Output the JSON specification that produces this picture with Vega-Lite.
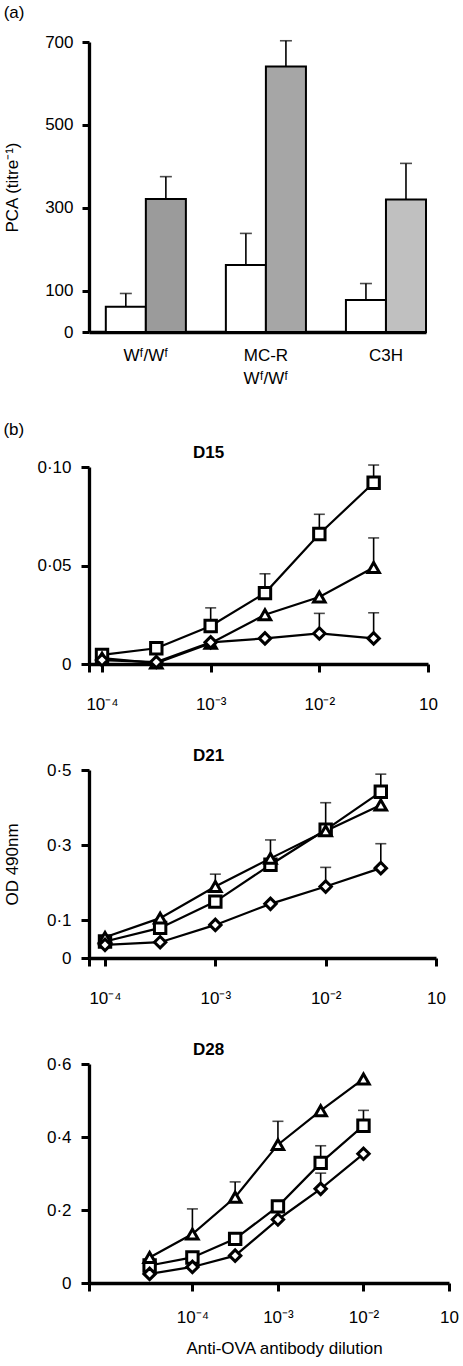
{
  "$schema": "https://vega.github.io/schema/vega-lite/v6.json",
  "background": "white",
  "padding": {"left": 3, "top": 4, "right": 0, "bottom": 5},
  "config": {
    "font": "Liberation Sans",
    "view": {"stroke": null}
  },
  "datasets": {
    "pca": [
      {"strain": "Wᶠ/Wᶠ", "treat": "control", "value": 61, "upper": 93},
      {"strain": "Wᶠ/Wᶠ", "treat": "sensitized", "value": 321, "upper": 375},
      {"strain": "MC-R Wᶠ/Wᶠ", "treat": "control", "value": 162, "upper": 238},
      {"strain": "MC-R Wᶠ/Wᶠ", "treat": "sensitized", "value": 641, "upper": 703},
      {"strain": "C3H", "treat": "control", "value": 77, "upper": 117},
      {"strain": "C3H", "treat": "sensitized", "value": 320, "upper": 407}
    ],
    "elisa": [
      {"day": "D15", "series": "grp1", "dilution": 0.0001, "od": 0.0046, "upper": null},
      {"day": "D15", "series": "grp1", "dilution": 0.000316, "od": 0.008, "upper": null},
      {"day": "D15", "series": "grp1", "dilution": 0.001, "od": 0.0193, "upper": 0.0285},
      {"day": "D15", "series": "grp1", "dilution": 0.00316, "od": 0.036, "upper": 0.0458},
      {"day": "D15", "series": "grp1", "dilution": 0.01, "od": 0.066, "upper": 0.076},
      {"day": "D15", "series": "grp1", "dilution": 0.0316, "od": 0.092, "upper": 0.101},
      {"day": "D15", "series": "grp2", "dilution": 0.0001, "od": 0.003, "upper": null},
      {"day": "D15", "series": "grp2", "dilution": 0.000316, "od": 0.0005, "upper": null},
      {"day": "D15", "series": "grp2", "dilution": 0.001, "od": 0.0105, "upper": null},
      {"day": "D15", "series": "grp2", "dilution": 0.00316, "od": 0.025, "upper": null},
      {"day": "D15", "series": "grp2", "dilution": 0.01, "od": 0.034, "upper": null},
      {"day": "D15", "series": "grp2", "dilution": 0.0316, "od": 0.049, "upper": 0.064},
      {"day": "D15", "series": "grp3", "dilution": 0.0001, "od": 0.002, "upper": null},
      {"day": "D15", "series": "grp3", "dilution": 0.000316, "od": 0.001, "upper": null},
      {"day": "D15", "series": "grp3", "dilution": 0.001, "od": 0.011, "upper": null},
      {"day": "D15", "series": "grp3", "dilution": 0.00316, "od": 0.013, "upper": null},
      {"day": "D15", "series": "grp3", "dilution": 0.01, "od": 0.0155, "upper": 0.0257},
      {"day": "D15", "series": "grp3", "dilution": 0.0316, "od": 0.013, "upper": 0.026},
      {"day": "D21", "series": "grp1", "dilution": 0.0001, "od": 0.044, "upper": null},
      {"day": "D21", "series": "grp1", "dilution": 0.000316, "od": 0.08, "upper": null},
      {"day": "D21", "series": "grp1", "dilution": 0.001, "od": 0.15, "upper": null},
      {"day": "D21", "series": "grp1", "dilution": 0.00316, "od": 0.248, "upper": null},
      {"day": "D21", "series": "grp1", "dilution": 0.01, "od": 0.341, "upper": 0.413},
      {"day": "D21", "series": "grp1", "dilution": 0.0316, "od": 0.442, "upper": 0.489},
      {"day": "D21", "series": "grp2", "dilution": 0.0001, "od": 0.055, "upper": null},
      {"day": "D21", "series": "grp2", "dilution": 0.000316, "od": 0.106, "upper": null},
      {"day": "D21", "series": "grp2", "dilution": 0.001, "od": 0.19, "upper": 0.223},
      {"day": "D21", "series": "grp2", "dilution": 0.00316, "od": 0.265, "upper": 0.314},
      {"day": "D21", "series": "grp2", "dilution": 0.01, "od": 0.338, "upper": null},
      {"day": "D21", "series": "grp2", "dilution": 0.0316, "od": 0.407, "upper": null},
      {"day": "D21", "series": "grp3", "dilution": 0.0001, "od": 0.035, "upper": null},
      {"day": "D21", "series": "grp3", "dilution": 0.000316, "od": 0.042, "upper": null},
      {"day": "D21", "series": "grp3", "dilution": 0.001, "od": 0.088, "upper": null},
      {"day": "D21", "series": "grp3", "dilution": 0.00316, "od": 0.144, "upper": null},
      {"day": "D21", "series": "grp3", "dilution": 0.01, "od": 0.19, "upper": 0.241},
      {"day": "D21", "series": "grp3", "dilution": 0.0316, "od": 0.239, "upper": 0.304},
      {"day": "D28", "series": "grp1", "dilution": 0.0000316, "od": 0.048, "upper": null},
      {"day": "D28", "series": "grp1", "dilution": 0.0001, "od": 0.07, "upper": null},
      {"day": "D28", "series": "grp1", "dilution": 0.000316, "od": 0.121, "upper": null},
      {"day": "D28", "series": "grp1", "dilution": 0.001, "od": 0.21, "upper": null},
      {"day": "D28", "series": "grp1", "dilution": 0.00316, "od": 0.329, "upper": 0.376},
      {"day": "D28", "series": "grp1", "dilution": 0.01, "od": 0.431, "upper": 0.473},
      {"day": "D28", "series": "grp2", "dilution": 0.0000316, "od": 0.07, "upper": null},
      {"day": "D28", "series": "grp2", "dilution": 0.0001, "od": 0.134, "upper": 0.203},
      {"day": "D28", "series": "grp2", "dilution": 0.000316, "od": 0.235, "upper": 0.277},
      {"day": "D28", "series": "grp2", "dilution": 0.001, "od": 0.379, "upper": 0.443},
      {"day": "D28", "series": "grp2", "dilution": 0.00316, "od": 0.472, "upper": null},
      {"day": "D28", "series": "grp2", "dilution": 0.01, "od": 0.559, "upper": null},
      {"day": "D28", "series": "grp3", "dilution": 0.0000316, "od": 0.025, "upper": null},
      {"day": "D28", "series": "grp3", "dilution": 0.0001, "od": 0.044, "upper": null},
      {"day": "D28", "series": "grp3", "dilution": 0.000316, "od": 0.075, "upper": null},
      {"day": "D28", "series": "grp3", "dilution": 0.001, "od": 0.174, "upper": null},
      {"day": "D28", "series": "grp3", "dilution": 0.00316, "od": 0.258, "upper": 0.301},
      {"day": "D28", "series": "grp3", "dilution": 0.01, "od": 0.354, "upper": null}
    ]
  },
  "spacing": 35,
  "vconcat": [
    {
      "vconcat": [
        {
          "width": 337, "height": 290,
          "title": {"text": "(a)", "anchor": "start", "frame": "bounds", "font": "Liberation Sans", "fontSize": 17, "fontWeight": "normal", "color": "black", "offset": 11},
          "data": {"name": "pca"},
          "encoding": {
            "x": {"field": "strain", "type": "nominal", "sort": ["Wᶠ/Wᶠ", "MC-R Wᶠ/Wᶠ", "C3H"],
              "scale": {"paddingInner": 0.333, "paddingOuter": 0.07, "align": 1},
              "axis": {"title": null, "labelAngle": 0, "ticks": false, "labelPadding": 15, "grid": false,
                "domainColor": "black", "domainWidth": 3.3, "labelColor": "black", "labelFont": "Liberation Sans", "labelFontSize": 17, "labelLineHeight": 23,
                "labelExpr": "datum.value == 'MC-R Wᶠ/Wᶠ' ? ['MC-R', 'Wᶠ/Wᶠ'] : datum.value"}},
            "xOffset": {"field": "treat", "type": "nominal", "sort": ["control", "sensitized"]}
          },
          "layer": [
            {"mark": {"type": "bar", "stroke": "black", "strokeWidth": 2},
              "encoding": {
                "y": {"field": "value", "type": "quantitative", "title": "PCA (titre⁻¹)", "scale": {"domain": [0, 700]},
                  "axis": {"values": [0, 100, 300, 500, 700], "grid": false, "domainColor": "black", "domainWidth": 3.3, "tickColor": "black", "tickWidth": 3, "tickSize": 7,
                    "labelColor": "black", "labelFont": "Liberation Sans", "labelFontSize": 17, "labelPadding": 9,
                    "titleColor": "black", "titleFont": "Liberation Sans", "titleFontSize": 17, "titleFontWeight": "normal", "titlePadding": 23}},
                "fill": {"condition": {"test": "datum.treat == 'control'", "value": "white"}, "field": "strain", "type": "nominal",
                  "scale": {"domain": ["Wᶠ/Wᶠ", "MC-R Wᶠ/Wᶠ", "C3H"], "range": ["#9b9b9b", "#a6a6a6", "#c0c0c0"]}, "legend": null}
              }},
            {"mark": {"type": "rule", "strokeWidth": 1.6, "color": "black"},
              "encoding": {"y": {"field": "value", "type": "quantitative", "title": "PCA (titre⁻¹)"}, "y2": {"field": "upper"}}},
            {"mark": {"type": "tick", "orient": "horizontal", "thickness": 1.6, "size": 12, "color": "black"},
              "encoding": {"y": {"field": "upper", "type": "quantitative", "title": "PCA (titre⁻¹)"}}}
          ]
        }
      ]
    },
    {
      "title": {"text": "(b)", "anchor": "start", "frame": "bounds", "font": "Liberation Sans", "fontSize": 17, "fontWeight": "normal", "color": "black", "offset": 5},
      "spacing": 35,
      "vconcat": [
        {
          "width": 339, "height": 197,
          "title": {"text": "D15", "anchor": "start", "frame": "group", "dx": 104, "dy": 4, "font": "Liberation Sans", "fontSize": 17, "fontWeight": "bold", "color": "black", "offset": 0},
          "data": {"name": "elisa"},
          "transform": [{"filter": "datum.day == 'D15'"}],
          "encoding": {
            "x": {"field": "dilution", "type": "quantitative", "title": null,
              "scale": {"type": "log", "domain": [0.0000759, 0.1]},
              "axis": {"values": [0.0000759, 0.0001, 0.001, 0.01, 0.1], "grid": false, "domainColor": "black", "domainWidth": 3.3, "tickColor": "black", "tickWidth": 3, "tickSize": 8,
                "labelColor": "black", "labelFont": "Liberation Sans", "labelFontSize": 17, "labelPadding": 24, "labelFlush": false,
                "labelExpr": "datum.value > 0.05 ? '10' : datum.value > 0.005 ? '10⁻²' : datum.value > 0.0005 ? '10⁻³' : datum.value > 0.00009 ? '10⁻⁴' : ''"}}
          },
          "layer": [
            {"transform": [{"filter": "datum.upper != null"}],
              "mark": {"type": "rule", "strokeWidth": 1.6, "color": "black"},
              "encoding": {"y": {"field": "od", "type": "quantitative", "title": null}, "y2": {"field": "upper"}}},
            {"transform": [{"filter": "datum.upper != null"}],
              "mark": {"type": "tick", "orient": "horizontal", "thickness": 1.6, "size": 11, "color": "black"},
              "encoding": {"y": {"field": "upper", "type": "quantitative", "title": null}}},
            {"mark": {"type": "line", "color": "black", "strokeWidth": 2.2},
              "encoding": {"y": {"field": "od", "type": "quantitative", "title": null, "scale": {"domain": [0, 0.1]},
                "axis": {"values": [0, 0.05, 0.1], "grid": false, "domainColor": "black", "domainWidth": 3.3, "tickColor": "black", "tickWidth": 3, "tickSize": 8,
                  "labelColor": "black", "labelFont": "Liberation Sans", "labelFontSize": 17, "labelPadding": 10,
                  "labelExpr": "datum.value == 0 ? '0' : replace(format(datum.value, '.2f'), '.', '·')"}},
                "detail": {"field": "series"}}},
            {"mark": {"type": "point", "filled": true, "fill": "white", "stroke": "black", "strokeWidth": 3, "size": 130, "opacity": 1},
              "encoding": {"y": {"field": "od", "type": "quantitative", "title": null},
                "shape": {"field": "series", "type": "nominal", "scale": {"domain": ["grp1", "grp2", "grp3"], "range": ["square", "triangle-up", "diamond"]}, "legend": null}}}
          ]
        },
        {
          "width": 347, "height": 188,
          "title": {"text": "D21", "anchor": "start", "frame": "group", "dx": 104, "dy": 4, "font": "Liberation Sans", "fontSize": 17, "fontWeight": "bold", "color": "black", "offset": 0},
          "data": {"name": "elisa"},
          "transform": [{"filter": "datum.day == 'D21'"}],
          "encoding": {
            "x": {"field": "dilution", "type": "quantitative", "title": null,
              "scale": {"type": "log", "domain": [0.0000716, 0.1]},
              "axis": {"values": [0.0000716, 0.0001, 0.001, 0.01, 0.1], "grid": false, "domainColor": "black", "domainWidth": 3.3, "tickColor": "black", "tickWidth": 3, "tickSize": 8,
                "labelColor": "black", "labelFont": "Liberation Sans", "labelFontSize": 17, "labelPadding": 24, "labelFlush": false,
                "labelExpr": "datum.value > 0.05 ? '10' : datum.value > 0.005 ? '10⁻²' : datum.value > 0.0005 ? '10⁻³' : datum.value > 0.00009 ? '10⁻⁴' : ''"}}
          },
          "layer": [
            {"transform": [{"filter": "datum.upper != null"}],
              "mark": {"type": "rule", "strokeWidth": 1.6, "color": "black"},
              "encoding": {"y": {"field": "od", "type": "quantitative", "title": "OD 490nm"}, "y2": {"field": "upper"}}},
            {"transform": [{"filter": "datum.upper != null"}],
              "mark": {"type": "tick", "orient": "horizontal", "thickness": 1.6, "size": 11, "color": "black"},
              "encoding": {"y": {"field": "upper", "type": "quantitative", "title": "OD 490nm"}}},
            {"mark": {"type": "line", "color": "black", "strokeWidth": 2.2},
              "encoding": {"y": {"field": "od", "type": "quantitative", "title": "OD 490nm", "scale": {"domain": [0, 0.5]},
                "axis": {"values": [0, 0.1, 0.3, 0.5], "grid": false, "domainColor": "black", "domainWidth": 3.3, "tickColor": "black", "tickWidth": 3, "tickSize": 8,
                  "labelColor": "black", "labelFont": "Liberation Sans", "labelFontSize": 17, "labelPadding": 10,
                  "titleColor": "black", "titleFont": "Liberation Sans", "titleFontSize": 17, "titleFontWeight": "normal", "titlePadding": 25,
                  "labelExpr": "datum.value == 0 ? '0' : replace(format(datum.value, '.1f'), '.', '·')"}},
                "detail": {"field": "series"}}},
            {"mark": {"type": "point", "filled": true, "fill": "white", "stroke": "black", "strokeWidth": 3, "size": 130, "opacity": 1},
              "encoding": {"y": {"field": "od", "type": "quantitative", "title": "OD 490nm"},
                "shape": {"field": "series", "type": "nominal", "scale": {"domain": ["grp1", "grp2", "grp3"], "range": ["square", "triangle-up", "diamond"]}, "legend": null}}}
          ]
        },
        {
          "width": 360, "height": 219,
          "title": {"text": "D28", "anchor": "start", "frame": "group", "dx": 104, "dy": 4, "font": "Liberation Sans", "fontSize": 17, "fontWeight": "bold", "color": "black", "offset": 0},
          "data": {"name": "elisa"},
          "transform": [{"filter": "datum.day == 'D28'"}],
          "encoding": {
            "x": {"field": "dilution", "type": "quantitative", "title": "Anti-OVA antibody dilution",
              "scale": {"type": "log", "domain": [0.00000618, 0.1]},
              "axis": {"values": [0.00000618, 0.0001, 0.001, 0.01, 0.1], "grid": false, "domainColor": "black", "domainWidth": 3.3, "tickColor": "black", "tickWidth": 3, "tickSize": 8,
                "labelColor": "black", "labelFont": "Liberation Sans", "labelFontSize": 17, "labelPadding": 18, "labelFlush": false,
                "titleColor": "black", "titleFont": "Liberation Sans", "titleFontSize": 17, "titleFontWeight": "normal", "titlePadding": 15, "titleX": 195,
                "labelExpr": "datum.value > 0.05 ? '10' : datum.value > 0.005 ? '10⁻²' : datum.value > 0.0005 ? '10⁻³' : datum.value > 0.00009 ? '10⁻⁴' : ''"}}
          },
          "layer": [
            {"transform": [{"filter": "datum.upper != null"}],
              "mark": {"type": "rule", "strokeWidth": 1.6, "color": "black"},
              "encoding": {"y": {"field": "od", "type": "quantitative", "title": null}, "y2": {"field": "upper"}}},
            {"transform": [{"filter": "datum.upper != null"}],
              "mark": {"type": "tick", "orient": "horizontal", "thickness": 1.6, "size": 11, "color": "black"},
              "encoding": {"y": {"field": "upper", "type": "quantitative", "title": null}}},
            {"mark": {"type": "line", "color": "black", "strokeWidth": 2.2},
              "encoding": {"y": {"field": "od", "type": "quantitative", "title": null, "scale": {"domain": [0, 0.6]},
                "axis": {"values": [0, 0.2, 0.4, 0.6], "grid": false, "domainColor": "black", "domainWidth": 3.3, "tickColor": "black", "tickWidth": 3, "tickSize": 8,
                  "labelColor": "black", "labelFont": "Liberation Sans", "labelFontSize": 17, "labelPadding": 10,
                  "labelExpr": "datum.value == 0 ? '0' : replace(format(datum.value, '.1f'), '.', '·')"}},
                "detail": {"field": "series"}}},
            {"mark": {"type": "point", "filled": true, "fill": "white", "stroke": "black", "strokeWidth": 3, "size": 130, "opacity": 1},
              "encoding": {"y": {"field": "od", "type": "quantitative", "title": null},
                "shape": {"field": "series", "type": "nominal", "scale": {"domain": ["grp1", "grp2", "grp3"], "range": ["square", "triangle-up", "diamond"]}, "legend": null}}}
          ]
        }
      ]
    }
  ]
}
